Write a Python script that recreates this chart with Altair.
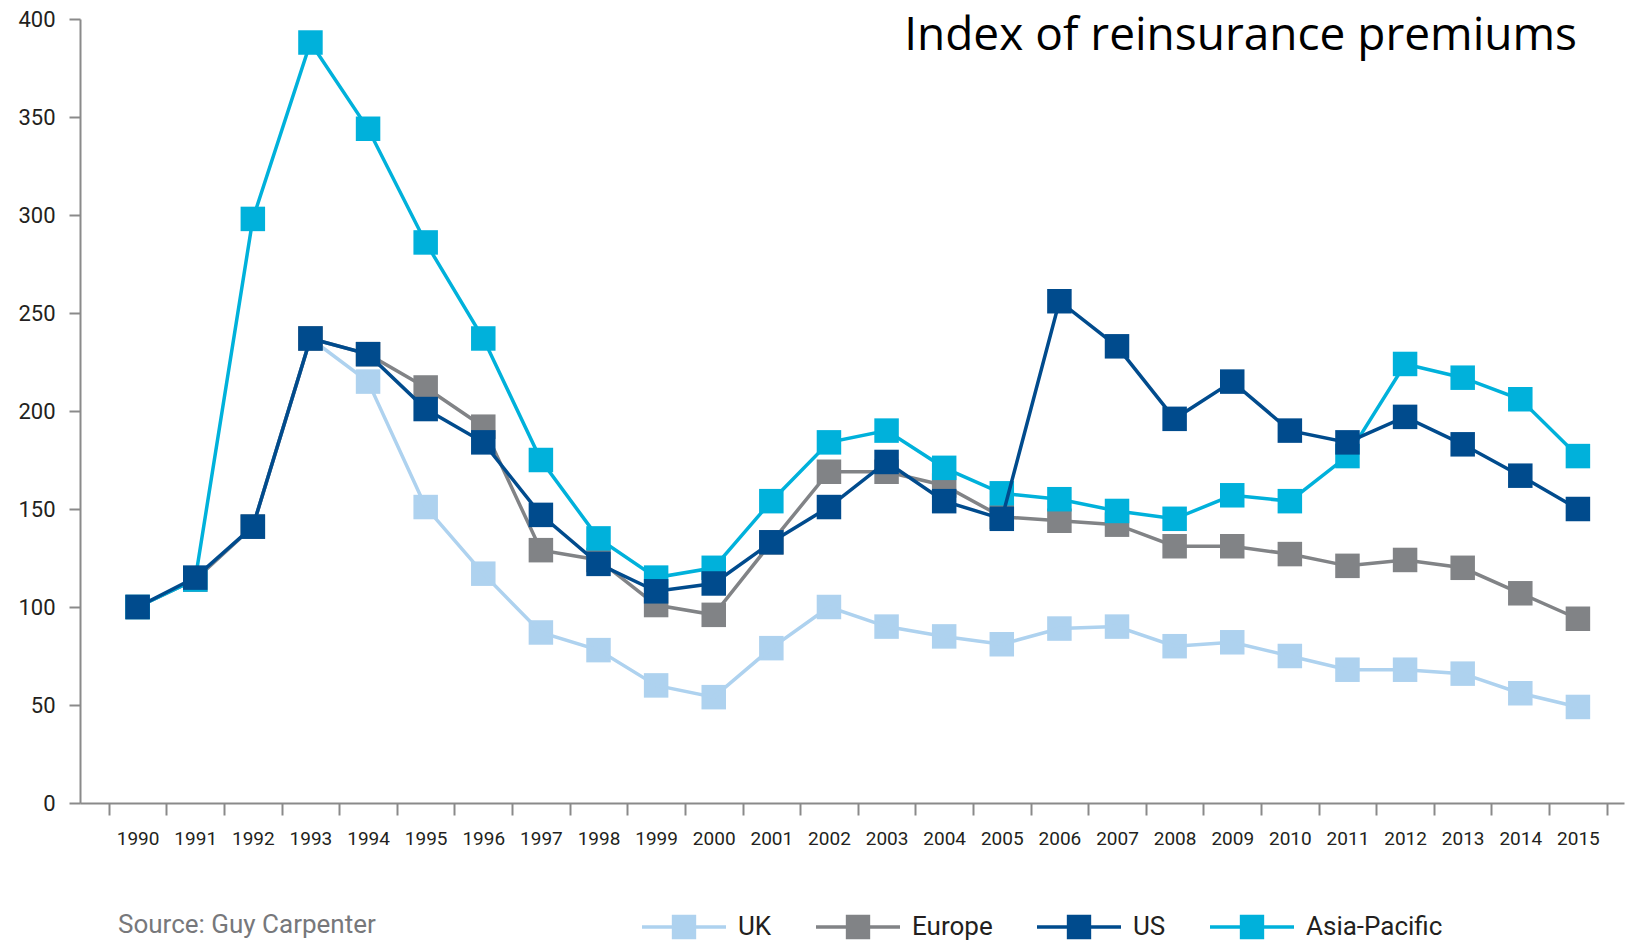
import altair as alt
import pandas as pd

years = list(range(1990, 2016))
uk = [100, 114, 141, 237, 215, 151, 117, 87, 78, 60, 54, 79, 100, 90, 85, 81, 89, 90, 80, 82, 75, 68, 68, 66, 56, 49]
europe = [100, 114, 141, 237, 229, 212, 192, 129, 124, 101, 96, 133, 169, 169, 162, 146, 144, 142, 131, 131, 127, 121, 124, 120, 107, 94]
us = [100, 115, 141, 237, 229, 201, 184, 147, 122, 108, 112, 133, 151, 174, 154, 145, 256, 233, 196, 215, 190, 184, 197, 183, 167, 150]
asia_pacific = [100, 114, 298, 388, 344, 286, 237, 175, 135, 115, 120, 154, 184, 190, 171, 158, 155, 149, 145, 157, 154, 177, 224, 217, 206, 177]

series_names = ["UK", "Europe", "US", "Asia-Pacific"]
series_colors = ["#AED2EF", "#818386", "#004B8D", "#00B1DB"]
draw_order = ["UK", "Europe", "Asia-Pacific", "US"]
y_ticks = [0, 50, 100, 150, 200, 250, 300, 350, 400]
half_year_ticks = [y - 0.5 for y in years] + [2015.5]

title_text = "Index of reinsurance premiums"
source_text = "Source: Guy Carpenter"

values = {"UK": uk, "Europe": europe, "US": us, "Asia-Pacific": asia_pacific}
df = pd.DataFrame(
    [{"year": y, "value": v, "series": s} for s in series_names for y, v in zip(years, values[s])]
)

W, H = 1544, 784
step = W / (2015.8 - 1989)
FONT = "Roboto, Liberation Sans, sans-serif"

legend_path = (
    "M-1,-0.04L1,-0.04L1,0.04L-1,0.04Z"
    "M-0.29,-0.29L0.29,-0.29L0.29,0.29L-0.29,0.29Z"
)

color_enc = alt.Color(
    "series:N",
    scale=alt.Scale(domain=series_names, range=series_colors),
    legend=alt.Legend(
        title=None,
        orient="none",
        direction="horizontal",
        legendX=562,
        legendY=866,
        symbolType=legend_path,
        symbolSize=7056,
        symbolStrokeWidth=0,
        symbolOpacity=1,
        labelFont=FONT,
        labelFontSize=26,
        labelColor="#231f20",
        labelOffset=12,
        columnPadding=44,
    ),
)

x_enc = alt.X(
    "year:Q",
    scale=alt.Scale(domain=[1989, 2015.8], nice=False, zero=False),
    axis=alt.Axis(
        title=None,
        values=half_year_ticks,
        labelExpr="datum.value < 2015 ? toString(datum.value + 0.5) : ''",
        labelOffset=step / 2,
        labelOverlap=False,
        labelFlush=False,
        labelFont=FONT,
        labelFontSize=19,
        labelColor="#231f20",
        labelPadding=14,
        tickSize=12,
        tickWidth=2,
        tickColor="#8a8a8a",
        domainColor="#8a8a8a",
        domainWidth=2,
        grid=False,
    ),
)
y_enc = alt.Y(
    "value:Q",
    scale=alt.Scale(domain=[0, 400], nice=False),
    axis=alt.Axis(
        title=None,
        values=y_ticks,
        labelFont=FONT,
        labelFontSize=22,
        labelColor="#231f20",
        labelPadding=14,
        tickSize=11,
        tickWidth=2,
        tickColor="#8a8a8a",
        domainColor="#8a8a8a",
        domainWidth=2,
        grid=False,
    ),
)

base = alt.Chart(df)
layers = []
for i, s in enumerate(draw_order):
    sub = base.transform_filter(alt.datum.series == s)
    pts = sub.mark_square(filled=True, size=600, opacity=1).encode(x=x_enc, y=y_enc, color=color_enc)
    ln = sub.mark_line(strokeWidth=3.5).encode(x=x_enc, y=y_enc, color=color_enc)
    if i == 0:
        layers += [pts, ln]
    else:
        layers += [ln, pts]

title_layer = alt.Chart(pd.DataFrame({"t": [title_text]})).mark_text(
    font="Open Sans", fontSize=46, align="right", baseline="alphabetic", color="#000000"
).encode(text="t:N", x=alt.value(1497), y=alt.value(31))

source_layer = alt.Chart(pd.DataFrame({"t": [source_text]})).mark_text(
    font=FONT, fontSize=26, align="left", baseline="alphabetic", color="#77787b"
).encode(text="t:N", x=alt.value(38), y=alt.value(914))

chart = alt.layer(*layers, title_layer, source_layer).properties(
    width=W,
    height=H,
    autosize=alt.AutoSizeParams(type="none"),
    padding={"left": 72, "top": 11, "right": 3, "bottom": 137},
).configure_view(stroke=None)

chart.save("out.html", embed_options={"renderer": "svg", "actions": False})
